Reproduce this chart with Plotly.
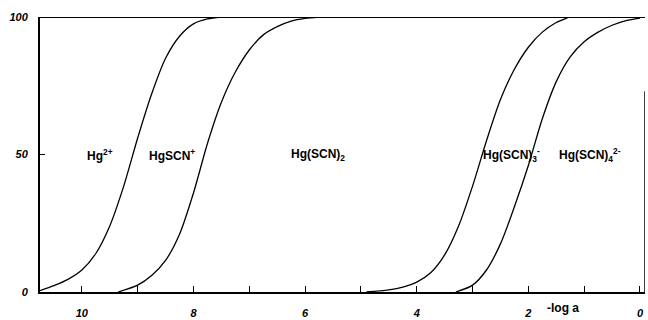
import plotly.graph_objects as go

# ---- data ----
x_c1 = [10.75, 10.5, 10.25, 10.0, 9.75, 9.5, 9.25, 9.0, 8.75, 8.5, 8.25, 8.0, 7.75, 7.5]
y_c1 = [0.5, 2.3, 4.6, 8.0, 14.0, 24.0, 38.5, 56.0, 72.0, 85.0, 93.0, 97.5, 99.3, 100.0]

x_c2 = [9.35, 9.0, 8.75, 8.5, 8.25, 8.0, 7.75, 7.5, 7.25, 7.0, 6.75, 6.5, 6.25, 6.0, 5.75]
y_c2 = [0.0, 2.5, 6.0, 11.5, 21.0, 36.0, 54.0, 69.0, 80.0, 88.0, 93.5, 96.5, 98.5, 99.5, 100.0]

x_c3 = [4.9, 4.5, 4.25, 4.0, 3.75, 3.5, 3.25, 3.0, 2.75, 2.5, 2.25, 2.0, 1.75, 1.5, 1.3]
y_c3 = [0.0, 0.8, 1.8, 3.6, 7.0, 13.5, 24.0, 38.5, 55.0, 70.0, 81.0, 89.0, 94.5, 98.0, 99.7]

x_c4 = [3.3, 3.0, 2.75, 2.5, 2.25, 2.0, 1.75, 1.5, 1.25, 1.0, 0.75, 0.5, 0.25, 0.0]
y_c4 = [0.0, 2.5, 8.0, 17.5, 31.0, 46.0, 63.0, 76.5, 85.5, 91.0, 94.5, 97.0, 98.7, 99.6]

species_labels = ["Hg<sup>2+</sup>", "HgSCN<sup>+</sup>", "Hg(SCN)<sub>2</sub>",
                  "Hg(SCN)<sub>3</sub><sup>-</sup>", "Hg(SCN)<sub>4</sub><sup>2-</sup>"]
species_x = [9.68, 8.39, 5.77, 2.31, 0.9]
species_y = [50, 50, 50, 50, 50]

x_tickvals = [10, 9, 8, 7, 6, 5, 4, 3, 2, 1, 0]
x_ticktext = ["10", "", "8", "", "6", "", "4", "", "2", "", "0"]
y_tickvals = [0, 50, 100]
y_ticktext = ["0", "50", "100"]
x_title = "-log a"

X_RANGE = [10.75, -0.09]

fig = go.Figure()
for xs, ys in [(x_c1, y_c1), (x_c2, y_c2), (x_c3, y_c3), (x_c4, y_c4)]:
    fig.add_trace(go.Scatter(x=xs, y=ys, mode="lines",
                             line=dict(color="black", width=1.3, shape="spline", smoothing=0.8),
                             showlegend=False, hoverinfo="skip"))

lab_font = dict(family="Liberation Sans Narrow, Liberation Sans, Arial", size=12,
                color="black", weight="bold")
for t, xv, yv in zip(species_labels, species_x, species_y):
    fig.add_annotation(x=xv, y=yv, text=t, showarrow=False, font=lab_font,
                       xanchor="center", yanchor="middle")

fig.add_annotation(x=1.38, y=0, yshift=-16, text=x_title, showarrow=False,
                   xanchor="center", yanchor="middle",
                   font=dict(family="Liberation Sans, Arial", size=12, color="black", weight="bold"))

# top frame line and partial right border
fig.add_shape(type="line", xref="x", yref="y", x0=X_RANGE[0], x1=X_RANGE[1], y0=100, y1=100,
              line=dict(color="black", width=2.2))
fig.add_shape(type="line", xref="x", yref="y", x0=X_RANGE[1], x1=X_RANGE[1], y0=0, y1=73,
              line=dict(color="black", width=1.5))

tick_font = dict(family="Liberation Sans, Arial", size=11, color="black",
                 weight="bold", style="italic")

fig.update_xaxes(range=X_RANGE, tickmode="array", tickvals=x_tickvals, ticktext=x_ticktext,
                 ticks="inside", ticklen=6, tickwidth=1.3, tickcolor="black",
                 showline=True, linecolor="black", linewidth=2, automargin=False,
                 showgrid=False, zeroline=False, tickfont=tick_font, ticklabelstandoff=10)
fig.update_yaxes(range=[0, 100], tickmode="array", tickvals=y_tickvals, ticktext=y_ticktext,
                 ticks="inside", ticklen=5, tickwidth=1.3, tickcolor="black",
                 showline=True, linecolor="black", linewidth=2, automargin=False,
                 showgrid=False, zeroline=False, tickfont=tick_font, ticklabelstandoff=8)

fig.update_layout(width=648, height=320, margin=dict(l=40, r=3, t=17, b=28),
                  plot_bgcolor="white", paper_bgcolor="white")

# remove the page's default body margin so the 648x320 figure fills the window exactly
fig.write_html("out.html", config={"displayModeBar": False},
               post_script="document.body.style.margin='0';document.body.style.overflow='hidden';")
